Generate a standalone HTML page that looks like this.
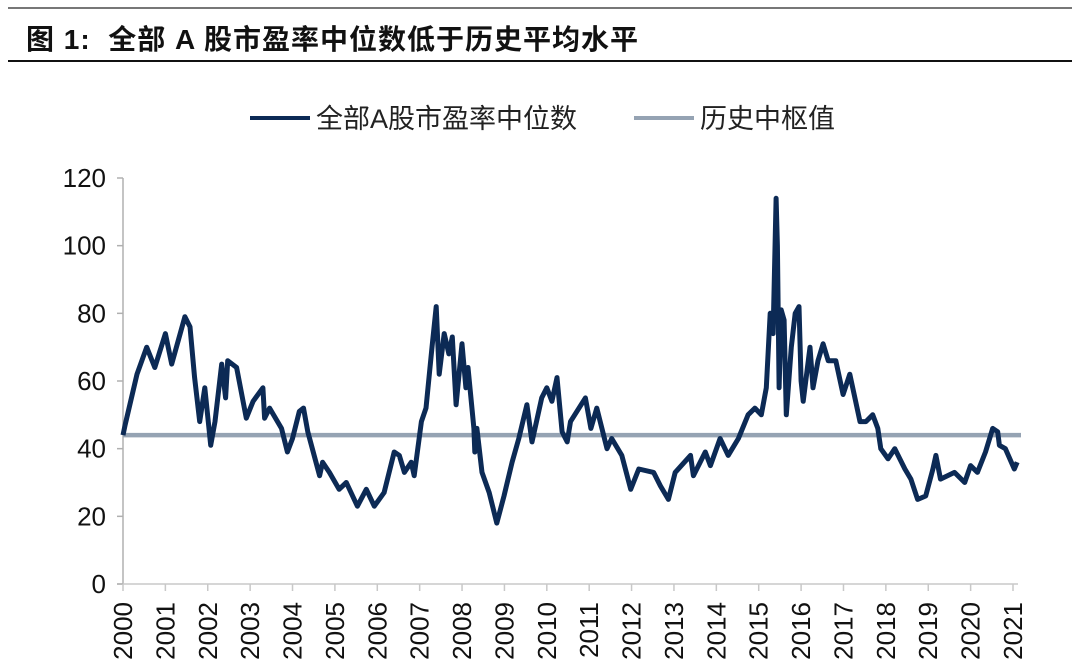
<!DOCTYPE html>
<html><head><meta charset="utf-8">
<style>
html,body{margin:0;padding:0;background:#fff;}
body{width:1080px;height:667px;overflow:hidden;position:relative;font-family:"Liberation Sans","Noto Sans CJK SC",sans-serif;}
</style></head>
<body>
<div style="position:absolute;left:8px;top:7px;width:1064px;height:2px;background:#777;"></div>
<div style="position:absolute;left:26px;top:18px;font-size:28px;font-weight:bold;color:#111;font-family:'Liberation Sans','Noto Sans CJK SC',sans-serif;letter-spacing:1px;">图 1:&nbsp; 全部 A 股市盈率中位数低于历史平均水平</div>
<div style="position:absolute;left:8px;top:60px;width:1064px;height:1.5px;background:#111;"></div>
<svg id="chart" width="1080" height="667" style="position:absolute;left:0;top:0;" xmlns="http://www.w3.org/2000/svg">
<g>
<line x1="250" y1="118" x2="310" y2="118" stroke="#0c2a55" stroke-width="4"/>
<text x="316" y="128" font-size="27" fill="#222" font-family="Liberation Sans,Noto Sans CJK SC,sans-serif">全部A股市盈率中位数</text>
<line x1="634" y1="118" x2="694" y2="118" stroke="#95a3b3" stroke-width="4"/>
<text x="700" y="128" font-size="27" fill="#222" font-family="Liberation Sans,Noto Sans CJK SC,sans-serif">历史中枢值</text>
</g>
<g id="axes"></g>
<g id="marks"></g>
</svg>
<script>
const yTicks=[0,20,40,60,80,100,120];
const xYears=[2000,2001,2002,2003,2004,2005,2006,2007,2008,2009,2010,2011,2012,2013,2014,2015,2016,2017,2018,2019,2020,2021];
const dates=[2000.0,2000.05,2000.33,2000.56,2000.75,2001.0,2001.15,2001.46,2001.58,2001.69,2001.81,2001.93,2002.07,2002.17,2002.33,2002.42,2002.47,2002.68,2002.91,2003.07,2003.3,2003.34,2003.46,2003.74,2003.88,2004.0,2004.16,2004.26,2004.36,2004.64,2004.71,2004.87,2005.1,2005.27,2005.53,2005.74,2005.93,2006.16,2006.4,2006.52,2006.64,2006.8,2006.87,2007.04,2007.15,2007.29,2007.39,2007.46,2007.58,2007.69,2007.77,2007.86,2008.0,2008.09,2008.14,2008.28,2008.3,2008.35,2008.47,2008.64,2008.82,2008.99,2009.18,2009.34,2009.53,2009.65,2009.88,2010.0,2010.12,2010.24,2010.36,2010.48,2010.56,2010.91,2011.04,2011.18,2011.3,2011.42,2011.53,2011.77,2011.98,2012.17,2012.52,2012.68,2012.87,2013.03,2013.39,2013.46,2013.74,2013.86,2014.09,2014.28,2014.52,2014.75,2014.91,2015.06,2015.18,2015.27,2015.34,2015.41,2015.44,2015.48,2015.53,2015.6,2015.65,2015.77,2015.86,2015.95,2016.0,2016.05,2016.21,2016.28,2016.4,2016.52,2016.64,2016.82,2016.99,2017.15,2017.27,2017.39,2017.53,2017.69,2017.81,2017.88,2018.05,2018.21,2018.45,2018.59,2018.75,2018.94,2019.11,2019.18,2019.29,2019.62,2019.86,2020.0,2020.16,2020.35,2020.52,2020.64,2020.68,2020.82,2021.03,2021.1];
const peValues=[44,47,62,70,64,74,65,79,76,61,48,58,41,48,65,55,66,64,49,54,58,49,52,46,39,43,51,52,45,32,36,33,28,30,23,28,23,27,39,38,33,36,32,48,52,70,82,62,74,68,73,53,71,58,64,46,39,46,33,27,18,26,36,43,53,42,55,58,54,61,45,42,48,55,46,52,46,40,43,38,28,34,33,29,25,33,38,32,39,35,43,38,43,50,52,50,58,80,74,114,100,58,81,78,50,70,80,82,60,54,70,58,66,71,66,66,56,62,55,48,48,50,46,40,37,40,34,31,25,26,34,38,31,33,30,35,33,39,46,45,41,40,34,36];
const medianValue=[44];
const NS="http://www.w3.org/2000/svg";
const X0=123,X1=1013,Y0=584,Y1=178;
const xs=t=>X0+(t-2000)/(2021-2000)*(X1-X0);
const ys=v=>Y0-v/120*(Y0-Y1);
const axes=document.getElementById('axes'),marks=document.getElementById('marks');
function mk(tag,attrs,parent){const e=document.createElementNS(NS,tag);for(const k in attrs)e.setAttribute(k,attrs[k]);parent.appendChild(e);return e;}
let a=mk('line',{x1:X0,y1:Y1,x2:X0,y2:Y0,stroke:'#b0b0b0','stroke-width':1.5},axes);


let b=mk('line',{x1:X0-6,y1:Y0,x2:1018,y2:Y0,stroke:'#c8c8c8','stroke-width':1.5},axes);


yTicks.forEach(v=>{
 const tk=mk('line',{x1:X0-6,y1:ys(v),x2:X0,y2:ys(v),stroke:'#b0b0b0','stroke-width':1.5},axes);
 
 
 const t=mk('text',{x:106,y:ys(v)+9,'text-anchor':'end','font-size':26,fill:'#111','font-family':'Liberation Sans,sans-serif'},axes);
 t.textContent=v;
 
 
});
xYears.forEach(yr=>{
 const x=xs(yr);
 const tk=mk('line',{x1:x,y1:Y0,x2:x,y2:Y0+7,stroke:'#c8c8c8','stroke-width':1.5},axes);
 
 
 const t=mk('text',{x:0,y:0,'text-anchor':'end','font-size':26,fill:'#111','font-family':'Liberation Sans,sans-serif',transform:`translate(${x+9},${Y0+18}) rotate(-90)`},axes);
 t.textContent=yr;
 
 
});
const ml=mk('line',{x1:X0,y1:ys(medianValue[0]),x2:1021,y2:ys(medianValue[0]),stroke:'#95a3b3','stroke-width':4.5},marks);


let d='';
dates.forEach((t,i)=>{d+=(i?'L':'M')+xs(t).toFixed(1)+','+ys(peValues[i]).toFixed(1);});
const p=mk('path',{d:d,fill:'none',stroke:'#0c2a55','stroke-width':5,'stroke-linejoin':'round'},marks);


</script>
</body></html>
